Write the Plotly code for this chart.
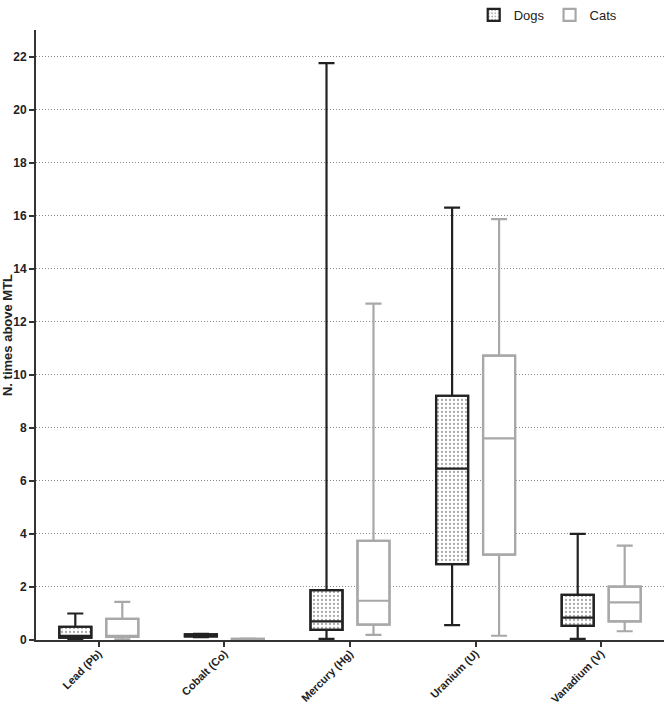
import plotly.graph_objects as go

categories = ["Lead (Pb)", "Cobalt (Co)", "Mercury (Hg)", "Uranium (U)", "Vanadium (V)"]

dogs_low = [0.02, 0.11, 0.04, 0.56, 0.04]
dogs_q1 = [0.09, 0.14, 0.38, 2.86, 0.53]
dogs_med = [0.16, 0.17, 0.70, 6.46, 0.84]
dogs_q3 = [0.50, 0.21, 1.88, 9.21, 1.70]
dogs_high = [1.00, 0.23, 21.75, 16.30, 4.00]

cats_low = [0.02, 0.01, 0.19, 0.16, 0.33]
cats_q1 = [0.12, 0.02, 0.58, 3.22, 0.70]
cats_med = [0.16, 0.03, 1.48, 7.60, 1.42]
cats_q3 = [0.80, 0.04, 3.74, 10.72, 2.01]
cats_high = [1.44, 0.05, 12.68, 15.87, 3.56]

y_ticks = list(range(0, 23, 2))

DOG = "#222222"
CAT = "#a8a8a8"
FONT = "Arial, Liberation Sans, sans-serif"

fig = go.Figure()

# patterned / white fills under the boxes (also serve as legend items)
fig.add_trace(go.Bar(
    x=categories, base=dogs_q1, y=[a - b for a, b in zip(dogs_q3, dogs_q1)],
    name="Dogs", offsetgroup="dogs",
    marker=dict(color="white", line=dict(color=DOG, width=2.2),
                pattern=dict(shape=".", fgcolor="#555555", bgcolor="white",
                             size=4, solidity=0.25)),
    hoverinfo="skip"))
fig.add_trace(go.Bar(
    x=categories, base=cats_q1, y=[a - b for a, b in zip(cats_q3, cats_q1)],
    name="Cats", offsetgroup="cats",
    marker=dict(color="white", line=dict(color=CAT, width=2.2)),
    hoverinfo="skip"))

fig.add_trace(go.Box(
    x=categories, q1=dogs_q1, median=dogs_med, q3=dogs_q3,
    lowerfence=dogs_low, upperfence=dogs_high,
    name="Dogs", offsetgroup="dogs", showlegend=False,
    line=dict(color=DOG, width=2.2), fillcolor="rgba(0,0,0,0)",
    whiskerwidth=0.5, boxpoints=False))
fig.add_trace(go.Box(
    x=categories, q1=cats_q1, median=cats_med, q3=cats_q3,
    lowerfence=cats_low, upperfence=cats_high,
    name="Cats", offsetgroup="cats", showlegend=False,
    line=dict(color=CAT, width=2.2), fillcolor="rgba(0,0,0,0)",
    whiskerwidth=0.5, boxpoints=False))

fig.update_layout(
    width=664, height=707,
    margin=dict(l=36, r=0, t=20, b=67),
    paper_bgcolor="white", plot_bgcolor="white",
    barmode="group", bargap=0.252, bargroupgap=0.318,
    boxmode="group", boxgap=0.252, boxgroupgap=0.318,
    font=dict(family=FONT, color="#222222"),
    legend=dict(orientation="h", x=0.697, y=1.0, yref="container",
                xanchor="left", yanchor="top",
                font=dict(size=13, color="#222222"), bgcolor="rgba(0,0,0,0)",
                itemwidth=30),
    xaxis=dict(
        type="category", range=[-0.5, 4.5], showgrid=False, automargin=False,
        showline=True, linecolor="#333333", linewidth=2,
        ticks="outside", ticklen=5, tickwidth=2, tickcolor="#333333",
        tickangle=-45, ticklabelstandoff=-4,
        tickfont=dict(size=11, weight="bold", color="#222222"),
    ),
    yaxis=dict(
        range=[0, 23], tickvals=y_ticks, showgrid=True, automargin=False,
        gridcolor="#8a8a8a", gridwidth=1, griddash="1px,2px",
        showline=True, linecolor="#333333", linewidth=2, zeroline=False,
        ticks="outside", ticklen=5, tickwidth=2, tickcolor="#333333",
        tickfont=dict(size=12, weight="bold", color="#222222"),
        title=dict(text="N. times above MTL", font=dict(size=13, weight="bold"),
                   standoff=4),
    ),
)

fig.write_html("out.html", config={"displayModeBar": False},
               post_script="document.body.style.margin='0px';document.body.style.overflow='hidden';")
